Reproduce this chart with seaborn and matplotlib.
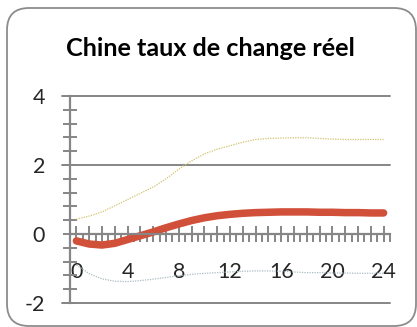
import numpy as np
import pandas as pd
import matplotlib
matplotlib.use("Agg")
import matplotlib.pyplot as plt
import seaborn as sns
from matplotlib.patches import FancyBboxPatch
from matplotlib.transforms import IdentityTransform

# Horizon (quarters) and impulse responses
horizon = list(range(25))
central = [-0.20, -0.29, -0.32, -0.27, -0.16, -0.05, 0.06, 0.18, 0.29, 0.39,
           0.47, 0.53, 0.57, 0.60, 0.62, 0.63, 0.64, 0.64, 0.64, 0.63,
           0.63, 0.62, 0.62, 0.61, 0.61]
upper = [0.43, 0.52, 0.64, 0.82, 1.00, 1.18, 1.36, 1.60, 1.88, 2.12,
         2.32, 2.46, 2.56, 2.66, 2.74, 2.77, 2.78, 2.79, 2.79, 2.77,
         2.75, 2.74, 2.74, 2.74, 2.74]
lower = [-0.90, -1.15, -1.30, -1.37, -1.38, -1.35, -1.31, -1.26, -1.21, -1.17,
         -1.14, -1.12, -1.10, -1.08, -1.07, -1.07, -1.08, -1.10, -1.12, -1.12,
         -1.13, -1.13, -1.14, -1.14, -1.14]
x_labels = [str(v) for v in range(0, 25, 4)]
y_ticks = [-2, 0, 2, 4]
title = "Chine taux de change réel"

df = pd.DataFrame({"h": horizon, "central": central, "upper": upper, "lower": lower})

sns.set_style("white")
plt.rcParams["font.family"] = ["Lato", "DejaVu Sans"]
plt.rcParams["axes.unicode_minus"] = False

fig = plt.figure(figsize=(4.17, 3.27), dpi=100)
ax = fig.add_axes([70 / 417, 1 - 303 / 327, 320 / 417, 207 / 327])

grey = "#868686"

sns.lineplot(data=df, x="h", y="upper", ax=ax, color="#d2c36e", lw=0.9,
             linestyle=(0, (1, 1)))
sns.lineplot(data=df, x="h", y="lower", ax=ax, color="#a9bcc0", lw=0.9,
             linestyle=(0, (1, 1)))
sns.lineplot(data=df, x="h", y="central", ax=ax, color="#d1503a", lw=5.4,
             solid_capstyle="round", solid_joinstyle="round")

ax.set_xlim(-0.5, 24.5)
ax.set_ylim(-2, 4)
ax.set_xlabel("")
ax.set_ylabel("")

# horizontal gridlines, extended slightly past the axis on the left
for yv in y_ticks:
    if yv != 0:
        ax.plot([-1.1, 24.5], [yv, yv], color=grey, lw=1.4, clip_on=False,
                zorder=0.5)

for s in ["top", "right"]:
    ax.spines[s].set_visible(False)
ax.spines["left"].set_color(grey)
ax.spines["left"].set_linewidth(1.6)
ax.spines["bottom"].set_color(grey)
ax.spines["bottom"].set_linewidth(1.6)
ax.spines["bottom"].set_position(("data", 0))

ax.set_xticks(range(0, 25))
ax.set_xticklabels([str(v) if v % 4 == 0 else "" for v in range(25)])
ax.set_xticks(np.arange(0.5, 24.6, 1.0), minor=True)
ax.set_yticks(y_ticks)
ax.set_yticks(np.arange(-2, 4.01, 0.4), minor=True)

ax.tick_params(axis="x", which="major", direction="inout", length=11,
               width=1.4, color=grey, labelsize=15.5, pad=15)
ax.tick_params(axis="x", which="minor", direction="out", length=6,
               width=1.4, color=grey)
ax.tick_params(axis="y", which="both", direction="inout", length=10,
               width=1.4, color=grey, labelsize=15.5, pad=13)
ax.tick_params(axis="both", which="both", bottom=True, left=True)

fig.text(210 / 417, 1 - 48 / 327, title, ha="center", va="center",
         fontsize=18.2, fontweight="bold", color="black")

# rounded outer frame
frame = FancyBboxPatch((7, 1), 409, 318, boxstyle="round,pad=0,rounding_size=22",
                       transform=IdentityTransform(), facecolor="none",
                       edgecolor="#8c8c8c", lw=1.3)
fig.patches.append(frame)

fig.savefig("out.png", dpi=100)
